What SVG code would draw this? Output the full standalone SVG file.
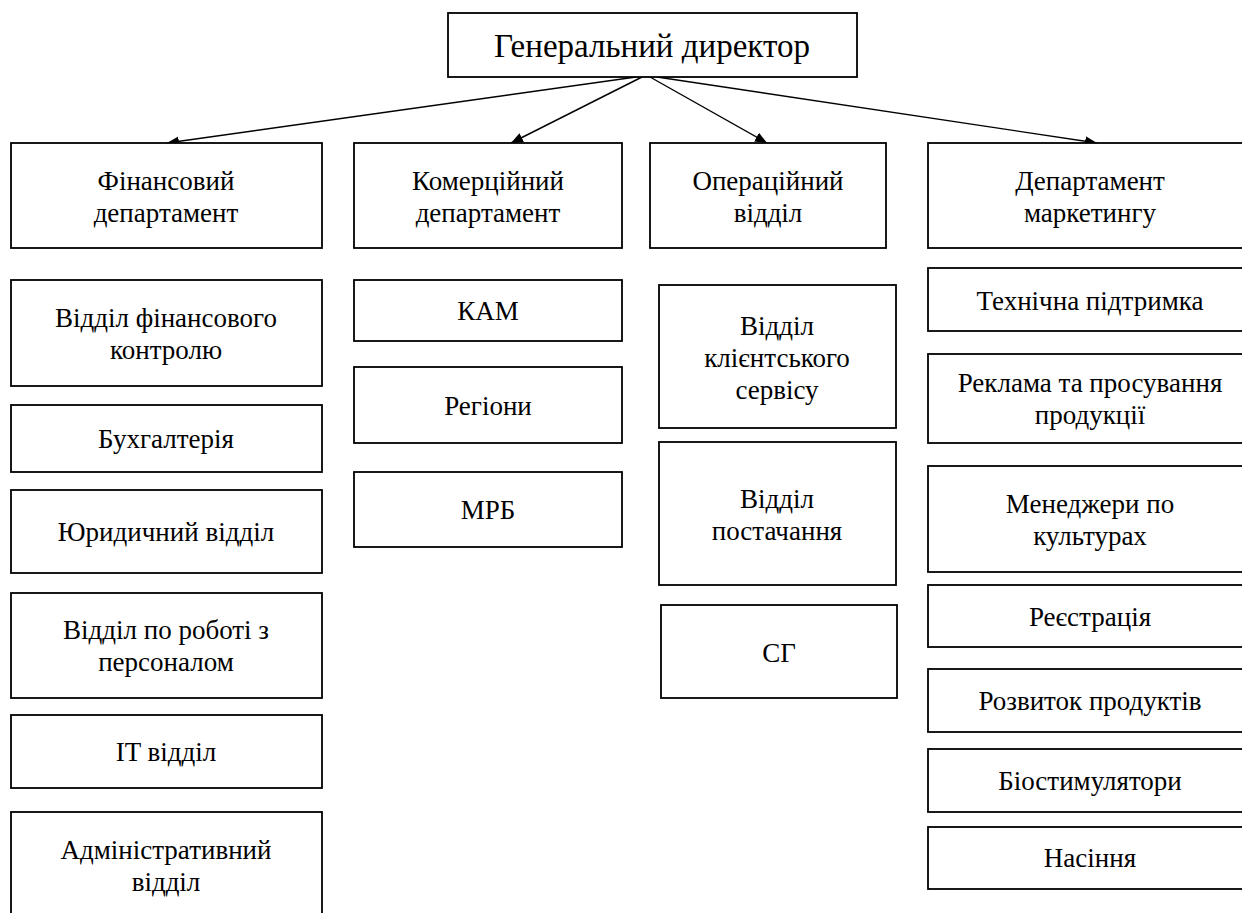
<svg xmlns="http://www.w3.org/2000/svg" width="1242" height="913" viewBox="0 0 1242 913">
<style>
.box{fill:#fff;stroke:#000;stroke-width:1.8}
text{font-family:'Liberation Serif','DejaVu Serif','Noto Serif',serif;font-size:27px;fill:#000;text-anchor:middle}
.title{font-size:33px}
.con{stroke:#000;stroke-width:1.4;fill:none;marker-end:url(#arr)}
</style>
<defs>
<marker id="arr" markerWidth="12" markerHeight="10" refX="12" refY="5" orient="auto" markerUnits="userSpaceOnUse">
<path d="M0,0 L12,5 L0,10 z" fill="#000"/>
</marker>
</defs>
<rect width="1242" height="913" fill="#fff"/>
<g id="connectors">
<line class="con" x1="636" y1="77" x2="167" y2="143"/>
<line class="con" x1="642" y1="77" x2="511" y2="143"/>
<line class="con" x1="650" y1="77" x2="767" y2="143"/>
<line class="con" x1="657" y1="77" x2="1097" y2="143"/>
</g>
<g id="gen-dir"><rect class="box" x="448" y="13" width="409" height="64"/><text class="title" x="652" y="57">Генеральний директор</text></g>
<g id="fin-dept"><rect class="box" x="11" y="143" width="311" height="105"/><text x="166" y="190">Фінансовий</text><text x="166" y="222">департамент</text></g>
<g id="com-dept"><rect class="box" x="354" y="143" width="268" height="105"/><text x="488" y="190">Комерційний</text><text x="488" y="222">департамент</text></g>
<g id="op-dept"><rect class="box" x="650" y="143" width="236" height="105"/><text x="768" y="190">Операційний</text><text x="768" y="222">відділ</text></g>
<g id="mkt-dept"><rect class="box" x="928" y="143" width="324" height="105"/><text x="1090" y="190">Департамент</text><text x="1090" y="222">маркетингу</text></g>

<g id="fin-control"><rect class="box" x="11" y="280" width="311" height="106"/><text x="166" y="327">Відділ фінансового</text><text x="166" y="359">контролю</text></g>
<g id="accounting"><rect class="box" x="11" y="405" width="311" height="67"/><text x="166" y="448">Бухгалтерія</text></g>
<g id="legal"><rect class="box" x="11" y="490" width="311" height="83"/><text x="166" y="541">Юридичний відділ</text></g>
<g id="hr"><rect class="box" x="11" y="593" width="311" height="105"/><text x="166" y="639">Відділ по роботі з</text><text x="166" y="671">персоналом</text></g>
<g id="it"><rect class="box" x="11" y="715" width="311" height="73"/><text x="166" y="761">IT відділ</text></g>
<g id="admin"><rect class="box" x="11" y="812" width="311" height="110"/><text x="166" y="859">Адміністративний</text><text x="166" y="891">відділ</text></g>

<g id="kam"><rect class="box" x="354" y="280" width="268" height="61"/><text x="488" y="320">КАМ</text></g>
<g id="regions"><rect class="box" x="354" y="367" width="268" height="76"/><text x="488" y="415">Регіони</text></g>
<g id="mrb"><rect class="box" x="354" y="472" width="268" height="75"/><text x="488" y="519">МРБ</text></g>

<g id="client-service"><rect class="box" x="659" y="285" width="237" height="143"/><text x="777" y="335">Відділ</text><text x="777" y="367">клієнтського</text><text x="777" y="399">сервісу</text></g>
<g id="supply"><rect class="box" x="659" y="442" width="237" height="143"/><text x="777" y="508">Відділ</text><text x="777" y="540">постачання</text></g>
<g id="sg"><rect class="box" x="661" y="605" width="236" height="93"/><text x="779" y="662">СГ</text></g>

<g id="tech-support"><rect class="box" x="928" y="268" width="324" height="63"/><text x="1090" y="310">Технічна підтримка</text></g>
<g id="advertising"><rect class="box" x="928" y="354" width="324" height="89"/><text x="1090" y="392">Реклама та просування</text><text x="1090" y="424">продукції</text></g>
<g id="crop-managers"><rect class="box" x="928" y="466" width="324" height="106"/><text x="1090" y="513">Менеджери по</text><text x="1090" y="545">культурах</text></g>
<g id="registration"><rect class="box" x="928" y="585" width="324" height="62"/><text x="1090" y="626">Реєстрація</text></g>
<g id="product-dev"><rect class="box" x="928" y="669" width="324" height="63"/><text x="1090" y="710">Розвиток продуктів</text></g>
<g id="biostim"><rect class="box" x="928" y="749" width="324" height="63"/><text x="1090" y="790">Біостимулятори</text></g>
<g id="seeds"><rect class="box" x="928" y="827" width="324" height="62"/><text x="1090" y="867">Насіння</text></g>
</svg>
